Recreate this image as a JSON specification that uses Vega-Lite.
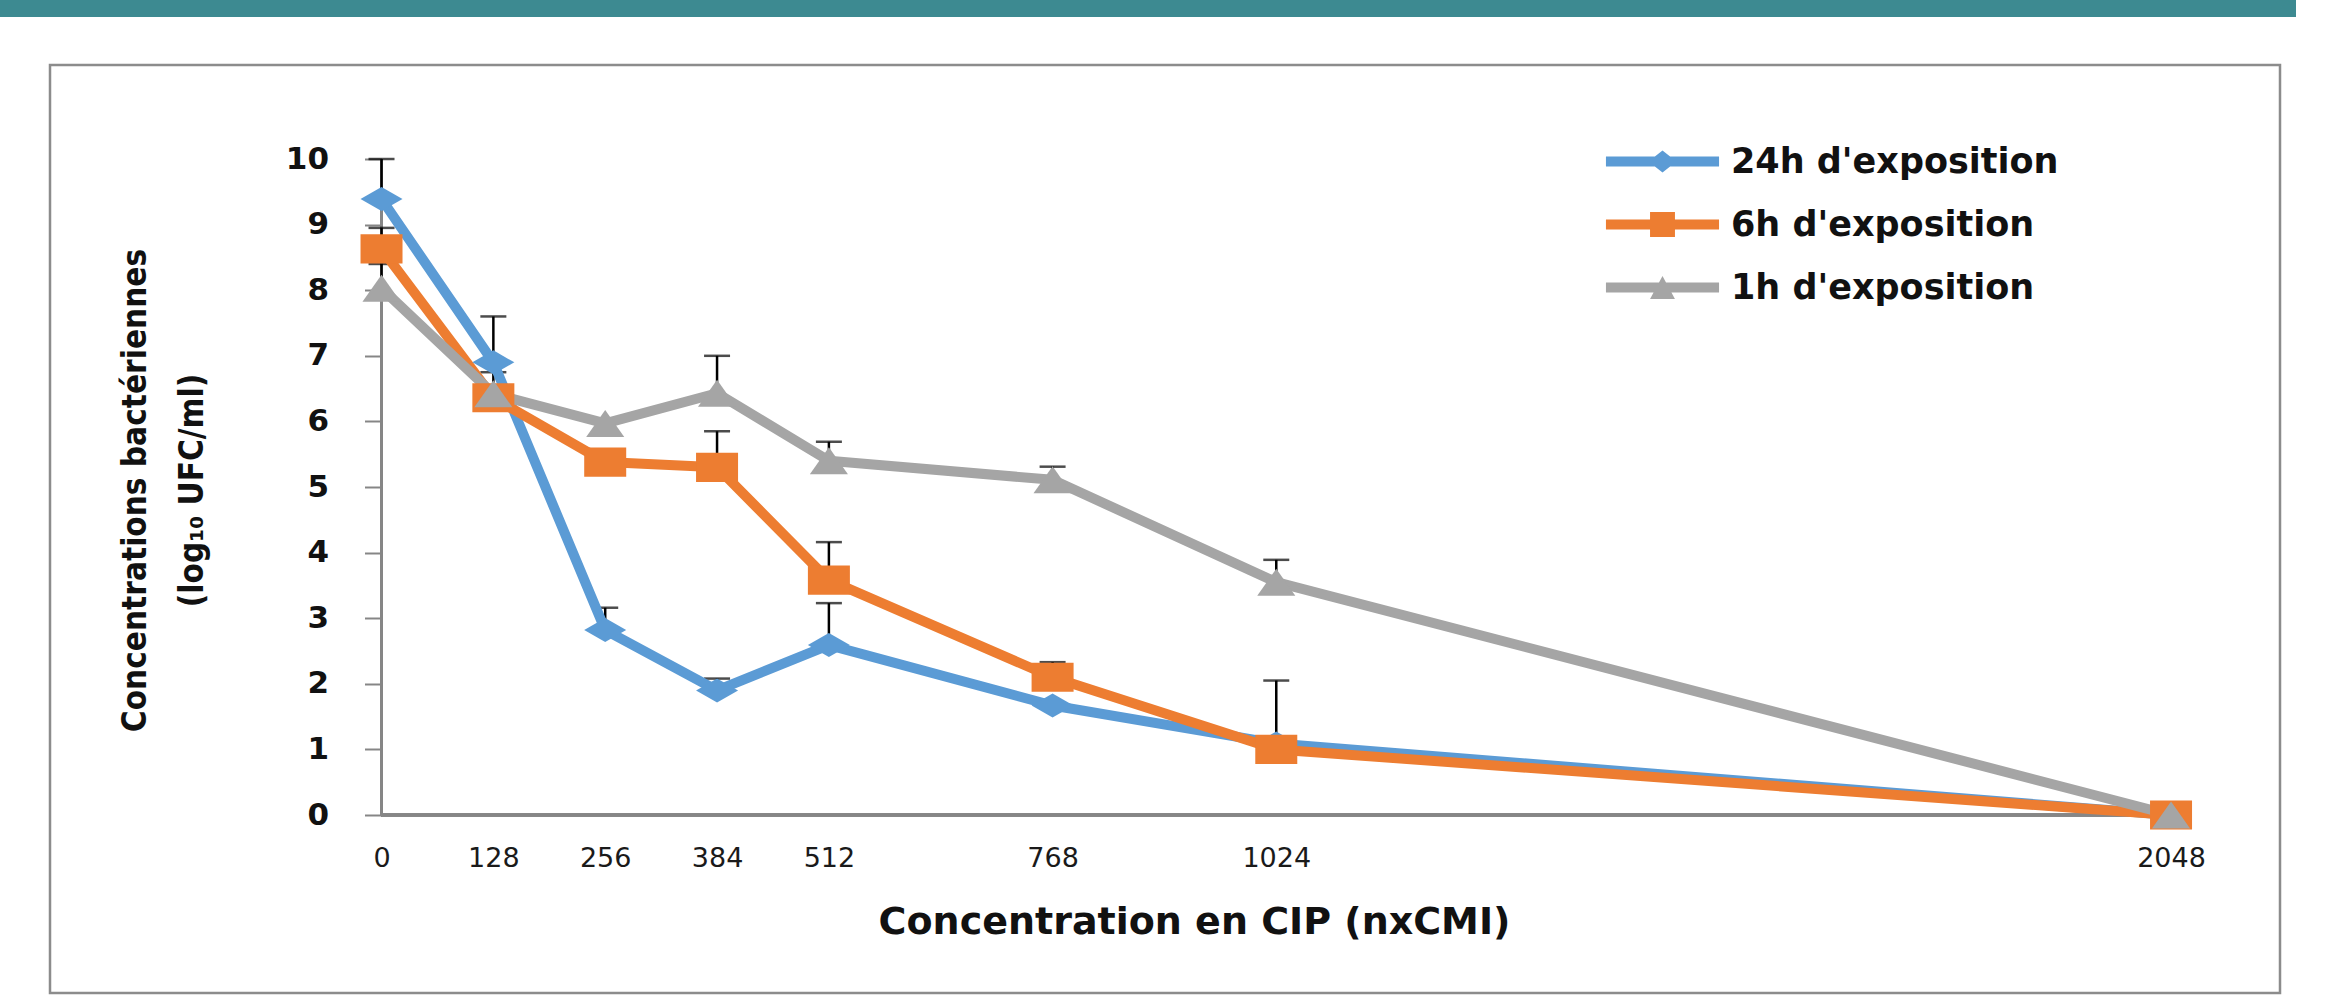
{
  "$schema": "https://vega.github.io/schema/vega-lite/v6.json",
  "padding": 0,
  "background": "white",
  "config": {"font": "DejaVu Sans"},
  "datasets": {
    "series": [
      {"conc": 0, "series": "24h d'exposition", "value": 9.39, "upper": 10.0},
      {"conc": 128, "series": "24h d'exposition", "value": 6.9, "upper": 7.6},
      {"conc": 256, "series": "24h d'exposition", "value": 2.82, "upper": 3.16},
      {"conc": 384, "series": "24h d'exposition", "value": 1.9, "upper": 2.08},
      {"conc": 512, "series": "24h d'exposition", "value": 2.59, "upper": 3.23},
      {"conc": 768, "series": "24h d'exposition", "value": 1.67, "upper": null},
      {"conc": 1024, "series": "24h d'exposition", "value": 1.09, "upper": 2.05},
      {"conc": 2048, "series": "24h d'exposition", "value": 0, "upper": null},
      {"conc": 0, "series": "6h d'exposition", "value": 8.63, "upper": 8.95},
      {"conc": 128, "series": "6h d'exposition", "value": 6.36, "upper": 6.75},
      {"conc": 256, "series": "6h d'exposition", "value": 5.38, "upper": null},
      {"conc": 384, "series": "6h d'exposition", "value": 5.3, "upper": 5.85},
      {"conc": 512, "series": "6h d'exposition", "value": 3.58, "upper": 4.16},
      {"conc": 768, "series": "6h d'exposition", "value": 2.1, "upper": 2.33},
      {"conc": 1024, "series": "6h d'exposition", "value": 1.0, "upper": null},
      {"conc": 2048, "series": "6h d'exposition", "value": 0, "upper": null},
      {"conc": 0, "series": "1h d'exposition", "value": 8.03, "upper": 8.4},
      {"conc": 128, "series": "1h d'exposition", "value": 6.42, "upper": null},
      {"conc": 256, "series": "1h d'exposition", "value": 5.97, "upper": null},
      {"conc": 384, "series": "1h d'exposition", "value": 6.43, "upper": 7.0},
      {"conc": 512, "series": "1h d'exposition", "value": 5.4, "upper": 5.69},
      {"conc": 768, "series": "1h d'exposition", "value": 5.11, "upper": 5.31},
      {"conc": 1024, "series": "1h d'exposition", "value": 3.55, "upper": 3.89},
      {"conc": 2048, "series": "1h d'exposition", "value": 0, "upper": null}
    ]
  },
  "spacing": 46,
  "vconcat": [
    {
      "width": 2296,
      "height": 17,
      "view": {"fill": "#3d8a91", "stroke": null},
      "data": {"values": []},
      "mark": "rect",
      "encoding": {}
    },
    {
      "spacing": 47,
      "hconcat": [
        {
          "width": 1,
          "height": 1,
          "view": {"stroke": null},
          "data": {"values": []},
          "mark": "rect",
          "encoding": {}
        },
        {
          "width": 2230,
          "height": 928,
          "view": {"stroke": "#8c8c8c", "strokeWidth": 2.5, "fill": "white"},
          "data": {"name": "series"},
          "layer": [
            {
              "mark": {"type": "rule", "color": "#868686", "strokeWidth": 2.5},
              "encoding": {
                "x": {"datum": 0, "type": "quantitative", "scale": {"domain": [-379.4, 2172.7], "nice": false, "zero": false},
                  "axis": {"values": [0, 128, 256, 384, 512, 768, 1024, 2048], "format": "d", "offset": -178, "domain": false, "ticks": false, "grid": false, "labelPadding": 30, "labelFont": "DejaVu Sans", "labelFontSize": 27, "labelColor": "#1a1a1a", "labelFlush": false, "labelOverlap": false, "title": "Concentration en CIP (nxCMI)", "titleFont": "DejaVu Sans", "titleFontSize": 38, "titleFontWeight": "bold", "titleColor": "#111111", "titleX": 1144, "titleY": 107, "titleAlign": "center", "titleBaseline": "middle"}},
                "y": {"datum": 0, "type": "quantitative", "scale": {"domain": [-2.713, 11.433], "nice": false, "zero": false},
                  "axis": {"values": [0, 1, 2, 3, 4, 5, 6, 7, 8, 9, 10], "format": "d", "offset": -331.5, "domain": false, "grid": false, "tickSize": 17, "tickColor": "#868686", "tickWidth": 2, "labelPadding": 36, "labelFont": "DejaVu Sans", "labelFontSize": 31, "labelFontWeight": "bold", "labelColor": "#111111", "labelFlush": false, "labelOverlap": false, "title": ["Concentrations bactériennes", "(log₁₀ UFC/ml)"], "titleFont": "Liberation Sans Narrow, DejaVu Sans Condensed", "titleFontSize": 33, "titleFontWeight": "bold", "titleColor": "#111111", "titleAngle": 270, "titleX": -262, "titleY": 425, "titleAlign": "center", "titleBaseline": "top", "titleLineHeight": 57}},
                "y2": {"datum": 10}
              }
            },
            {
              "mark": {"type": "rule", "color": "#868686", "strokeWidth": 2.5},
              "encoding": {
                "x": {"datum": 0, "type": "quantitative"},
                "x2": {"datum": 2048},
                "y": {"datum": 0, "type": "quantitative"}
              }
            },
            {
              "transform": [{"filter": "datum.upper != null"}],
              "mark": {"type": "rule", "color": "black", "strokeWidth": 2.5},
              "encoding": {
                "x": {"field": "conc", "type": "quantitative"},
                "y": {"field": "value", "type": "quantitative"},
                "y2": {"field": "upper"}
              }
            },
            {
              "transform": [{"filter": "datum.upper != null"}],
              "mark": {"type": "tick", "orient": "horizontal", "color": "black", "size": 26, "thickness": 2.5},
              "encoding": {
                "x": {"field": "conc", "type": "quantitative"},
                "y": {"field": "upper", "type": "quantitative"}
              }
            },
            {
              "transform": [{"filter": "datum.series === \"24h d'exposition\""}],
              "mark": {"type": "line", "strokeWidth": 10, "strokeJoin": "round", "strokeCap": "round", "color": "#5b9bd5"},
              "encoding": {
                "x": {"field": "conc", "type": "quantitative"},
                "y": {"field": "value", "type": "quantitative"},
                "order": {"field": "conc", "type": "quantitative"}
              }
            },
            {
              "transform": [{"filter": "datum.series === \"6h d'exposition\""}],
              "mark": {"type": "line", "strokeWidth": 10, "strokeJoin": "round", "strokeCap": "round", "color": "#ed7d31"},
              "encoding": {
                "x": {"field": "conc", "type": "quantitative"},
                "y": {"field": "value", "type": "quantitative"},
                "order": {"field": "conc", "type": "quantitative"}
              }
            },
            {
              "transform": [{"filter": "datum.series === \"1h d'exposition\""}],
              "mark": {"type": "line", "strokeWidth": 10, "strokeJoin": "round", "strokeCap": "round", "color": "#a5a5a5"},
              "encoding": {
                "x": {"field": "conc", "type": "quantitative"},
                "y": {"field": "value", "type": "quantitative"},
                "order": {"field": "conc", "type": "quantitative"}
              }
            },
            {
              "transform": [{"filter": "datum.series === \"24h d'exposition\""}],
              "mark": {"type": "point", "filled": true, "opacity": 1, "size": 900, "color": "#5b9bd5", "shape": "M-1.4,0L0,-0.8L1.4,0L0,0.8Z", "strokeWidth": 0},
              "encoding": {
                "x": {"field": "conc", "type": "quantitative"},
                "y": {"field": "value", "type": "quantitative"}
              }
            },
            {
              "transform": [{"filter": "datum.series === \"6h d'exposition\""}],
              "mark": {"type": "point", "filled": true, "opacity": 1, "size": 900, "color": "#ed7d31", "shape": "M-1.4,-0.97L1.4,-0.97L1.4,0.97L-1.4,0.97Z", "strokeWidth": 0},
              "encoding": {
                "x": {"field": "conc", "type": "quantitative"},
                "y": {"field": "value", "type": "quantitative"}
              }
            },
            {
              "transform": [{"filter": "datum.series === \"1h d'exposition\""}],
              "mark": {"type": "point", "filled": true, "opacity": 1, "size": 900, "color": "#a5a5a5", "shape": "M0,-0.9L1.27,0.9L-1.27,0.9Z", "strokeWidth": 0},
              "encoding": {
                "x": {"field": "conc", "type": "quantitative"},
                "y": {"field": "value", "type": "quantitative"}
              }
            },
            {
              "mark": {"type": "point", "filled": true, "size": 900, "strokeWidth": 0, "opacity": 0},
              "encoding": {
                "x": {"field": "conc", "type": "quantitative"},
                "y": {"field": "value", "type": "quantitative"},
                "fill": {"field": "series", "type": "nominal",
                  "scale": {"domain": ["24h d'exposition", "6h d'exposition", "1h d'exposition"], "range": ["#5b9bd5", "#ed7d31", "#a5a5a5"]},
                  "legend": {"orient": "none", "legendX": 1645, "legendY": 144, "title": null, "padding": 0, "symbolSize": 900, "symbolStrokeWidth": 0, "symbolOpacity": 1, "labelFont": "DejaVu Sans", "labelFontSize": 35, "labelFontWeight": "bold", "labelColor": "#111111", "labelOffset": 51, "rowPadding": 27, "labelLimit": 600}},
                "shape": {"field": "series", "type": "nominal",
                  "scale": {"domain": ["24h d'exposition", "6h d'exposition", "1h d'exposition"], "range": [
                    "M-3.77,-0.33L3.77,-0.33L3.77,0.33L-3.77,0.33Z M-0.93,0L0,-0.73L0.93,0L0,0.73Z",
                    "M-3.77,-0.33L3.77,-0.33L3.77,0.33L-3.77,0.33Z M-0.83,-0.83L0.83,-0.83L0.83,0.83L-0.83,0.83Z",
                    "M-3.77,-0.33L3.77,-0.33L3.77,0.33L-3.77,0.33Z M0,-0.77L0.83,0.77L-0.83,0.77Z"]},
                  "legend": {"orient": "none", "legendX": 1645, "legendY": 144, "title": null, "padding": 0, "symbolSize": 900, "symbolStrokeWidth": 0, "symbolOpacity": 1, "labelFont": "DejaVu Sans", "labelFontSize": 35, "labelFontWeight": "bold", "labelColor": "#111111", "labelOffset": 51, "rowPadding": 27, "labelLimit": 600}}
              }
            }
          ]
        }
      ]
    }
  ]
}
